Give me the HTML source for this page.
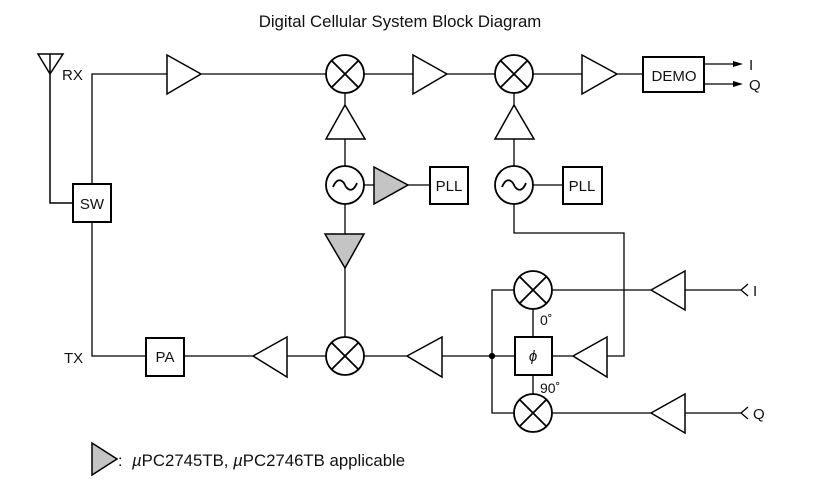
<!DOCTYPE html>
<html><head><style>body{margin:0;background:#fff}svg{display:block}</style></head><body>
<svg width="832" height="483" viewBox="0 0 832 483" xmlns="http://www.w3.org/2000/svg" font-family="Liberation Sans, sans-serif" fill="none" stroke="#000" stroke-width="1.3">
<text x="400" y="27" font-size="16.8" text-anchor="middle" fill="#111" stroke="none">Digital Cellular System Block Diagram</text>
<!-- antenna -->
<path d="M38 54 H63 L50 74 Z M50 54 V203 H73" stroke-width="1.5"/>
<text x="62" y="80" font-size="15" fill="#111" stroke="none">RX</text>
<text x="64" y="363" font-size="15" fill="#111" stroke="none">TX</text>
<rect x="73" y="184" width="38" height="38" stroke-width="2"/>
<text x="92" y="209" font-size="15" text-anchor="middle" fill="#111" stroke="none">SW</text>
<path d="M92 184 V74 H167 M201 74 H326 M364 74 H413 M447 74 H495 M533 74 H582 M617 74 H643 M92 222 V356 H146 M184 356 H253 M287 356 H326 M364 356 H407 M442 356 H515 M552 356 H573"/>
<!-- RX amps -->
<path d="M167 55 L201 74 L167 94 Z M413 55 L447 74 L413 94 Z M582 55 L617 74 L582 94 Z" stroke-width="1.5"/>
<!-- mixers -->
<g stroke-width="1.8">
<circle cx="345" cy="74" r="19"/><path d="M331.6 60.6 L358.4 87.4 M358.4 60.6 L331.6 87.4"/>
<circle cx="514" cy="74" r="19"/><path d="M500.6 60.6 L527.4 87.4 M527.4 60.6 L500.6 87.4"/>
<circle cx="345" cy="356" r="19"/><path d="M331.6 342.6 L358.4 369.4 M358.4 342.6 L331.6 369.4"/>
<circle cx="533" cy="290" r="19"/><path d="M519.6 276.6 L546.4 303.4 M546.4 276.6 L519.6 303.4"/>
<circle cx="533" cy="413" r="19"/><path d="M519.6 399.6 L546.4 426.4 M546.4 399.6 L519.6 426.4"/>
<circle cx="345" cy="185" r="19"/><path d="M333 187 C338 175 344 182 345 185 C346 188 352 195 357 183"/>
<circle cx="514" cy="185" r="19"/><path d="M502 187 C507 175 513 182 514 185 C515 188 521 195 526 183"/>
</g>
<!-- vertical LO lines -->
<path d="M345 93 V105 M345 139 V166 M345 204 V234 M345 268 V337 M514 93 V105 M514 139 V166 M514 204 V233 H624 V356 H607 M364 185 H374 M408 185 H430 M533 185 H563"/>
<path d="M326 139 L345 105 L365 139 Z M495 139 L514 105 L534 139 Z" stroke-width="1.5"/>
<path d="M374 167 L408 185 L374 204 Z M325 234 L364 234 L345 268 Z" fill="#c4c4c4" stroke-width="1.5"/>
<rect x="430" y="167" width="38" height="37" stroke-width="2"/>
<text x="449" y="191" font-size="15" text-anchor="middle" fill="#111" stroke="none">PLL</text>
<rect x="563" y="167" width="39" height="37" stroke-width="2"/>
<text x="582" y="191" font-size="15" text-anchor="middle" fill="#111" stroke="none">PLL</text>
<!-- DEMO -->
<rect x="643" y="57" width="61" height="35" stroke-width="2"/>
<text x="674" y="81" font-size="15" text-anchor="middle" fill="#111" stroke="none">DEMO</text>
<path d="M704 64 H733 M704 84 H733"/>
<path d="M733 61 L743 64 L733 67 Z M733 81 L743 84 L733 87 Z" fill="#000" stroke="none"/>
<text x="749" y="70" font-size="15" fill="#111" stroke="none">I</text>
<text x="749" y="90" font-size="15" fill="#111" stroke="none">Q</text>
<!-- TX chain -->
<rect x="146" y="338" width="38" height="38" stroke-width="2"/>
<text x="165" y="362" font-size="15" text-anchor="middle" fill="#111" stroke="none">PA</text>
<path d="M253 356 L287 337 L287 377 Z M407 356 L442 337 L442 377 Z M573 356 L607 337 L607 377 Z" stroke-width="1.5"/>
<circle cx="492" cy="356" r="2.5" fill="#000"/>
<path d="M514 290 H492 V413 H514 M533 309 V337 M533 375 V394 M552 290 H651 M552 413 H651 M685 290 H741 M685 413 H741"/>
<rect x="515" y="337" width="37" height="38" stroke-width="2"/>
<text x="533" y="361" font-size="15" font-style="italic" text-anchor="middle" fill="#111" stroke="none">ϕ</text>
<text x="540" y="325" font-size="14" fill="#111" stroke="none">0˚</text>
<text x="540" y="393" font-size="14" fill="#111" stroke="none">90˚</text>
<path d="M651 290 L685 271 L685 310 Z M651 413 L685 394 L685 433 Z" stroke-width="1.5"/>
<path d="M748 284 L741 290 L748 296 M748 407 L741 413 L748 419"/>
<text x="753" y="296" font-size="15" fill="#111" stroke="none">I</text>
<text x="753" y="419" font-size="15" fill="#111" stroke="none">Q</text>
<!-- legend -->
<path d="M92 443 L117 459 L92 475 Z" fill="#c4c4c4" stroke-width="1.5"/>
<text x="118" y="466" font-size="16" fill="#111" stroke="none">:</text>
<text x="132" y="466" font-size="16.8" fill="#111" stroke="none"><tspan font-style="italic">µ</tspan>PC2745TB, <tspan font-style="italic">µ</tspan>PC2746TB applicable</text>
</svg>
</body></html>
